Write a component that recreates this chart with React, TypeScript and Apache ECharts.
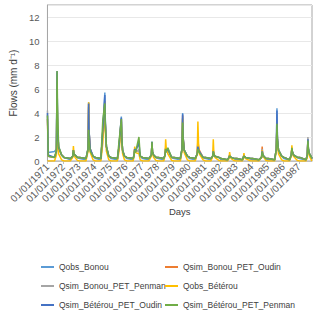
import React, { useEffect, useRef } from "react";
import * as echarts from "echarts";

// Decimal-year time stamps shared by all series
const times: number[] = [
  1971.0,
  1971.05, 1971.45, 1971.57, 1971.61, 1971.64, 1971.71, 1971.9,
  1972.05, 1972.45, 1972.61, 1972.65, 1972.68, 1972.75, 1972.9,
  1973.05, 1973.45, 1973.58, 1973.62, 1973.65, 1973.72, 1973.9,
  1974.05, 1974.4, 1974.52, 1974.65, 1974.68, 1974.75, 1974.9,
  1975.05, 1975.45, 1975.55, 1975.7, 1975.73, 1975.78, 1975.9,
  1976.05, 1976.45, 1976.51, 1976.55, 1976.6, 1976.82, 1976.9,
  1977.05, 1977.45, 1977.61, 1977.65, 1977.68, 1977.75, 1977.9,
  1978.05, 1978.4, 1978.48, 1978.52, 1978.56, 1978.66, 1978.9,
  1979.05, 1979.45, 1979.56, 1979.6, 1979.63, 1979.7, 1979.9,
  1980.05, 1980.4, 1980.53, 1980.57, 1980.61, 1980.66, 1980.9,
  1981.05, 1981.4, 1981.51, 1981.55, 1981.58, 1981.65, 1981.9,
  1982.05, 1982.45, 1982.55, 1982.59, 1982.62, 1982.69, 1982.9,
  1983.05, 1983.4, 1983.46, 1983.5, 1983.53, 1983.6, 1983.9,
  1984.05, 1984.45, 1984.62, 1984.66, 1984.69, 1984.76, 1984.9,
  1985.05, 1985.45, 1985.56, 1985.6, 1985.63, 1985.7, 1985.9,
  1986.05, 1986.4, 1986.51, 1986.55, 1986.58, 1986.65, 1986.9,
  1987.05, 1987.45, 1987.53, 1987.57, 1987.6, 1987.67, 1987.8,
  1987.83,
];

const qobsBonou: number[] = [
  0.7,
  0.7, 0.8, 1.0, 7.4, 3.0, 1.2, 0.5,
  0.3, 0.1, 0.4, 0.8, 0.6, 0.5, 0.3,
  0.2, 0.1, 1.0, 4.9, 2.5, 1.0, 0.4,
  0.2, 0.1, 2.5, 5.7, 3.5, 1.2, 0.4,
  0.2, 0.1, 1.2, 3.7, 2.0, 0.9, 0.4,
  0.2, 0.1, 0.5, 1.0, 0.8, 0.9, 0.4,
  0.2, 0.1, 0.5, 1.6, 0.8, 0.5, 0.3,
  0.2, 0.1, 0.5, 1.0, 0.7, 0.9, 0.3,
  0.2, 0.1, 1.0, 4.0, 2.0, 0.9, 0.4,
  0.2, 0.1, 0.6, 1.5, 1.0, 0.7, 0.3,
  0.2, 0.1, 0.4, 0.8, 0.6, 0.4, 0.3,
  0.1, 0.05, 0.3, 0.5, 0.4, 0.3, 0.2,
  0.1, 0.05, 0.3, 0.5, 0.4, 0.3, 0.2,
  0.1, 0.05, 0.3, 0.9, 0.6, 0.4, 0.2,
  0.1, 0.05, 1.0, 4.4, 2.0, 0.9, 0.4,
  0.2, 0.05, 0.5, 1.0, 0.8, 0.5, 0.3,
  0.2, 0.05, 0.5, 1.8, 1.0, 0.6, 0.3,
  0.2,
];

const qsimBonouOudin: number[] = [
  3.5,
  0.4, 0.3, 0.8, 6.5, 2.8, 1.1, 0.5,
  0.3, 0.2, 0.4, 0.9, 0.6, 0.5, 0.3,
  0.3, 0.2, 1.0, 4.8, 2.4, 1.0, 0.4,
  0.3, 0.2, 2.5, 5.0, 3.2, 1.2, 0.4,
  0.3, 0.2, 1.2, 3.5, 1.8, 0.9, 0.4,
  0.3, 0.2, 0.5, 1.0, 0.8, 0.9, 0.4,
  0.3, 0.2, 0.5, 1.5, 0.8, 0.5, 0.3,
  0.3, 0.2, 0.5, 1.1, 0.8, 0.9, 0.3,
  0.3, 0.2, 1.0, 3.8, 2.0, 0.9, 0.4,
  0.3, 0.2, 0.6, 1.8, 1.2, 0.9, 0.3,
  0.3, 0.2, 0.4, 0.9, 0.6, 0.4, 0.3,
  0.2, 0.1, 0.3, 0.5, 0.4, 0.3, 0.2,
  0.2, 0.1, 0.3, 0.5, 0.4, 0.3, 0.2,
  0.2, 0.1, 0.3, 1.2, 0.6, 0.4, 0.2,
  0.2, 0.1, 1.0, 3.2, 1.8, 0.9, 0.4,
  0.3, 0.1, 0.5, 1.1, 0.8, 0.5, 0.3,
  0.3, 0.1, 0.5, 1.8, 1.0, 0.6, 0.3,
  0.2,
];

const qsimBonouPenman: number[] = [
  4.2,
  0.4, 0.3, 0.8, 6.8, 2.8, 1.1, 0.5,
  0.3, 0.2, 0.4, 0.9, 0.6, 0.5, 0.3,
  0.3, 0.2, 1.0, 4.5, 2.3, 1.0, 0.4,
  0.3, 0.2, 2.4, 4.8, 3.0, 1.2, 0.4,
  0.3, 0.2, 1.1, 3.3, 1.8, 0.9, 0.4,
  0.3, 0.2, 0.5, 1.0, 0.8, 0.9, 0.4,
  0.3, 0.2, 0.5, 1.5, 0.8, 0.5, 0.3,
  0.3, 0.2, 0.5, 1.1, 0.8, 0.9, 0.3,
  0.3, 0.2, 1.0, 3.6, 1.9, 0.9, 0.4,
  0.3, 0.2, 0.6, 1.6, 1.1, 0.8, 0.3,
  0.3, 0.2, 0.4, 0.9, 0.6, 0.4, 0.3,
  0.2, 0.1, 0.3, 0.5, 0.4, 0.3, 0.2,
  0.2, 0.1, 0.3, 0.5, 0.4, 0.3, 0.2,
  0.2, 0.1, 0.3, 1.0, 0.6, 0.4, 0.2,
  0.2, 0.1, 1.0, 3.0, 1.7, 0.9, 0.4,
  0.3, 0.1, 0.5, 1.1, 0.8, 0.5, 0.3,
  0.3, 0.1, 0.5, 2.0, 1.1, 0.6, 0.3,
  0.2,
];

const qobsBeterou: number[] = [
  0.0,
  0.0, 0.0, 0.5, 3.0, 1.5, 0.6, 0.1,
  0.0, 0.0, 0.3, 1.25, 0.7, 0.3, 0.05,
  0.0, 0.0, 0.8, 4.9, 2.0, 0.7, 0.1,
  0.0, 0.0, 1.5, 4.5, 2.5, 0.8, 0.1,
  0.0, 0.0, 0.8, 2.8, 1.5, 0.6, 0.1,
  0.0, 0.0, 0.4, 1.2, 0.7, 0.6, 0.1,
  0.0, 0.0, 0.4, 1.5, 0.7, 0.3, 0.05,
  0.0, 0.0, 0.5, 1.8, 1.0, 0.6, 0.05,
  0.0, 0.0, 0.8, 3.5, 1.8, 0.7, 0.1,
  0.0, 0.0, 0.6, 3.3, 1.5, 0.6, 0.1,
  0.0, 0.0, 0.4, 1.8, 0.8, 0.3, 0.05,
  0.0, 0.0, 0.2, 0.75, 0.4, 0.2, 0.02,
  0.0, 0.0, 0.2, 0.65, 0.3, 0.2, 0.02,
  0.0, 0.0, 0.3, 0.9, 0.5, 0.3, 0.05,
  0.0, 0.0, 0.8, 2.5, 1.4, 0.6, 0.1,
  0.0, 0.0, 0.4, 1.3, 0.7, 0.4, 0.05,
  0.0, 0.0, 0.3, 1.5, 0.8, 0.4, 0.05,
  0.0,
];

const qsimBeterouOudin: number[] = [
  4.0,
  0.5, 0.3, 0.8, 7.5, 2.8, 1.1, 0.5,
  0.3, 0.2, 0.4, 0.9, 0.6, 0.5, 0.3,
  0.3, 0.2, 1.0, 4.8, 2.4, 1.0, 0.4,
  0.3, 0.2, 2.5, 5.5, 3.2, 1.2, 0.4,
  0.3, 0.2, 1.2, 3.6, 1.8, 0.9, 0.4,
  0.3, 0.2, 0.5, 1.0, 0.8, 1.5, 0.4,
  0.3, 0.2, 0.5, 1.6, 0.8, 0.5, 0.3,
  0.3, 0.2, 0.5, 1.0, 0.8, 1.0, 0.3,
  0.3, 0.2, 1.0, 3.9, 2.0, 0.9, 0.4,
  0.3, 0.2, 0.6, 1.2, 1.0, 0.8, 0.3,
  0.3, 0.2, 0.4, 0.8, 0.6, 0.4, 0.3,
  0.2, 0.1, 0.3, 0.4, 0.4, 0.3, 0.2,
  0.2, 0.1, 0.3, 0.4, 0.4, 0.3, 0.2,
  0.2, 0.1, 0.3, 0.8, 0.6, 0.4, 0.2,
  0.2, 0.1, 1.0, 4.2, 1.8, 0.9, 0.4,
  0.3, 0.1, 0.5, 1.0, 0.8, 0.5, 0.3,
  0.3, 0.1, 0.5, 1.8, 1.0, 0.6, 0.3,
  0.2,
];

const qsimBeterouPenman: number[] = [
  3.8,
  0.4, 0.3, 0.9, 7.5, 4.5, 1.2, 0.5,
  0.3, 0.2, 0.4, 0.9, 0.6, 0.5, 0.3,
  0.3, 0.2, 1.0, 2.6, 1.6, 0.8, 0.4,
  0.3, 0.2, 3.4, 4.8, 3.0, 1.2, 0.4,
  0.3, 0.2, 1.6, 3.5, 1.8, 0.9, 0.4,
  0.3, 0.2, 0.5, 0.9, 0.7, 2.0, 0.4,
  0.3, 0.2, 0.5, 1.6, 0.8, 0.5, 0.3,
  0.3, 0.2, 0.5, 1.0, 0.8, 1.1, 0.3,
  0.3, 0.2, 1.0, 3.2, 1.8, 0.9, 0.4,
  0.3, 0.2, 0.6, 1.0, 0.9, 0.7, 0.3,
  0.3, 0.2, 0.4, 0.8, 0.6, 0.4, 0.3,
  0.2, 0.1, 0.3, 0.4, 0.4, 0.3, 0.2,
  0.2, 0.1, 0.3, 0.4, 0.4, 0.3, 0.2,
  0.2, 0.1, 0.3, 0.75, 0.6, 0.4, 0.2,
  0.2, 0.1, 1.0, 3.1, 1.8, 0.9, 0.4,
  0.3, 0.1, 0.5, 1.1, 0.8, 0.5, 0.3,
  0.3, 0.1, 0.5, 1.7, 1.0, 0.6, 0.3,
  0.2,
];

const seriesNames: string[] = [
  "Qobs_Bonou",
  "Qsim_Bonou_PET_Oudin",
  "Qsim_Bonou_PET_Penman",
  "Qobs_Bétérou",
  "Qsim_Bétérou_PET_Oudin",
  "Qsim_Bétérou_PET_Penman",
];
const seriesValues: number[][] = [
  qobsBonou,
  qsimBonouOudin,
  qsimBonouPenman,
  qobsBeterou,
  qsimBeterouOudin,
  qsimBeterouPenman,
];
const seriesColors: string[] = ["#5B9BD5", "#ED7D31", "#A5A5A5", "#FFC000", "#4472C4", "#70AD47"];

const FONT = "Liberation Sans, Arial, sans-serif";

export default function App() {
  const ref = useRef<HTMLDivElement>(null);
  useEffect(() => {
    if (!ref.current) return;
    const chart = echarts.init(ref.current, null, { renderer: "svg" });
    const legendText = { fontSize: 8.5, color: "#404040", fontFamily: FONT, lineHeight: 10 };
    const legendCommon = {
      orient: "vertical",
      top: 262,
      icon: "rect",
      itemWidth: 13,
      itemHeight: 2,
      itemGap: 9,
      padding: 0,
      textStyle: legendText,
    };
    chart.setOption({
      animation: false,
      textStyle: { fontFamily: FONT },
      grid: {
        left: 36,
        top: 5,
        right: 8,
        bottom: 160,
        show: true,
        borderColor: "#a6a6a6",
        borderWidth: 1,
      },
      legend: [
        { ...legendCommon, left: 41, data: [seriesNames[0], seriesNames[2], seriesNames[4]] },
        { ...legendCommon, left: 165, data: [seriesNames[1], seriesNames[3], seriesNames[5]] },
      ],
      xAxis: {
        type: "value",
        min: 1971,
        max: 1987.83,
        interval: 1,
        name: "Days",
        nameLocation: "middle",
        nameGap: 45,
        nameTextStyle: { fontSize: 9.5, color: "#404040", fontFamily: FONT },
        axisLine: { show: true, lineStyle: { color: "#bfbfbf" } },
        axisTick: { show: true, length: 3, lineStyle: { color: "#bfbfbf" } },
        splitLine: { show: false },
        axisLabel: {
          rotate: 45,
          fontSize: 10,
          color: "#595959",
          margin: 4,
          showMaxLabel: false,
          formatter: (v: number) => (Number.isInteger(v) ? `01/01/${v}` : ""),
        },
      },
      yAxis: {
        type: "value",
        min: 0,
        max: 13,
        interval: 2,
        name: "Flows (mm d⁻¹)",
        nameLocation: "middle",
        nameRotate: 90,
        nameGap: 25,
        nameTextStyle: { fontSize: 10, color: "#404040", fontFamily: FONT },
        axisLine: { show: true, lineStyle: { color: "#a6a6a6" } },
        axisTick: { show: false },
        splitLine: { show: true, lineStyle: { color: "#e8e8e8" } },
        axisLabel: {
          fontSize: 9.5,
          color: "#595959",
          margin: 8,
          showMaxLabel: false,
          formatter: (v: number) => (v % 2 === 0 ? String(v) : ""),
        },
      },
      series: seriesNames.map((name, i) => ({
        name,
        type: "line",
        showSymbol: false,
        symbol: "none",
        color: seriesColors[i],
        lineStyle: { width: 1.5, color: seriesColors[i] },
        data: times.map((t, j) => [t, seriesValues[i][j]]),
      })),
    });
    return () => chart.dispose();
  }, []);
  return (
    <div
      ref={ref}
      style={{ position: "absolute", left: 0, top: 0, width: 320, height: 321 }}
    />
  );
}
